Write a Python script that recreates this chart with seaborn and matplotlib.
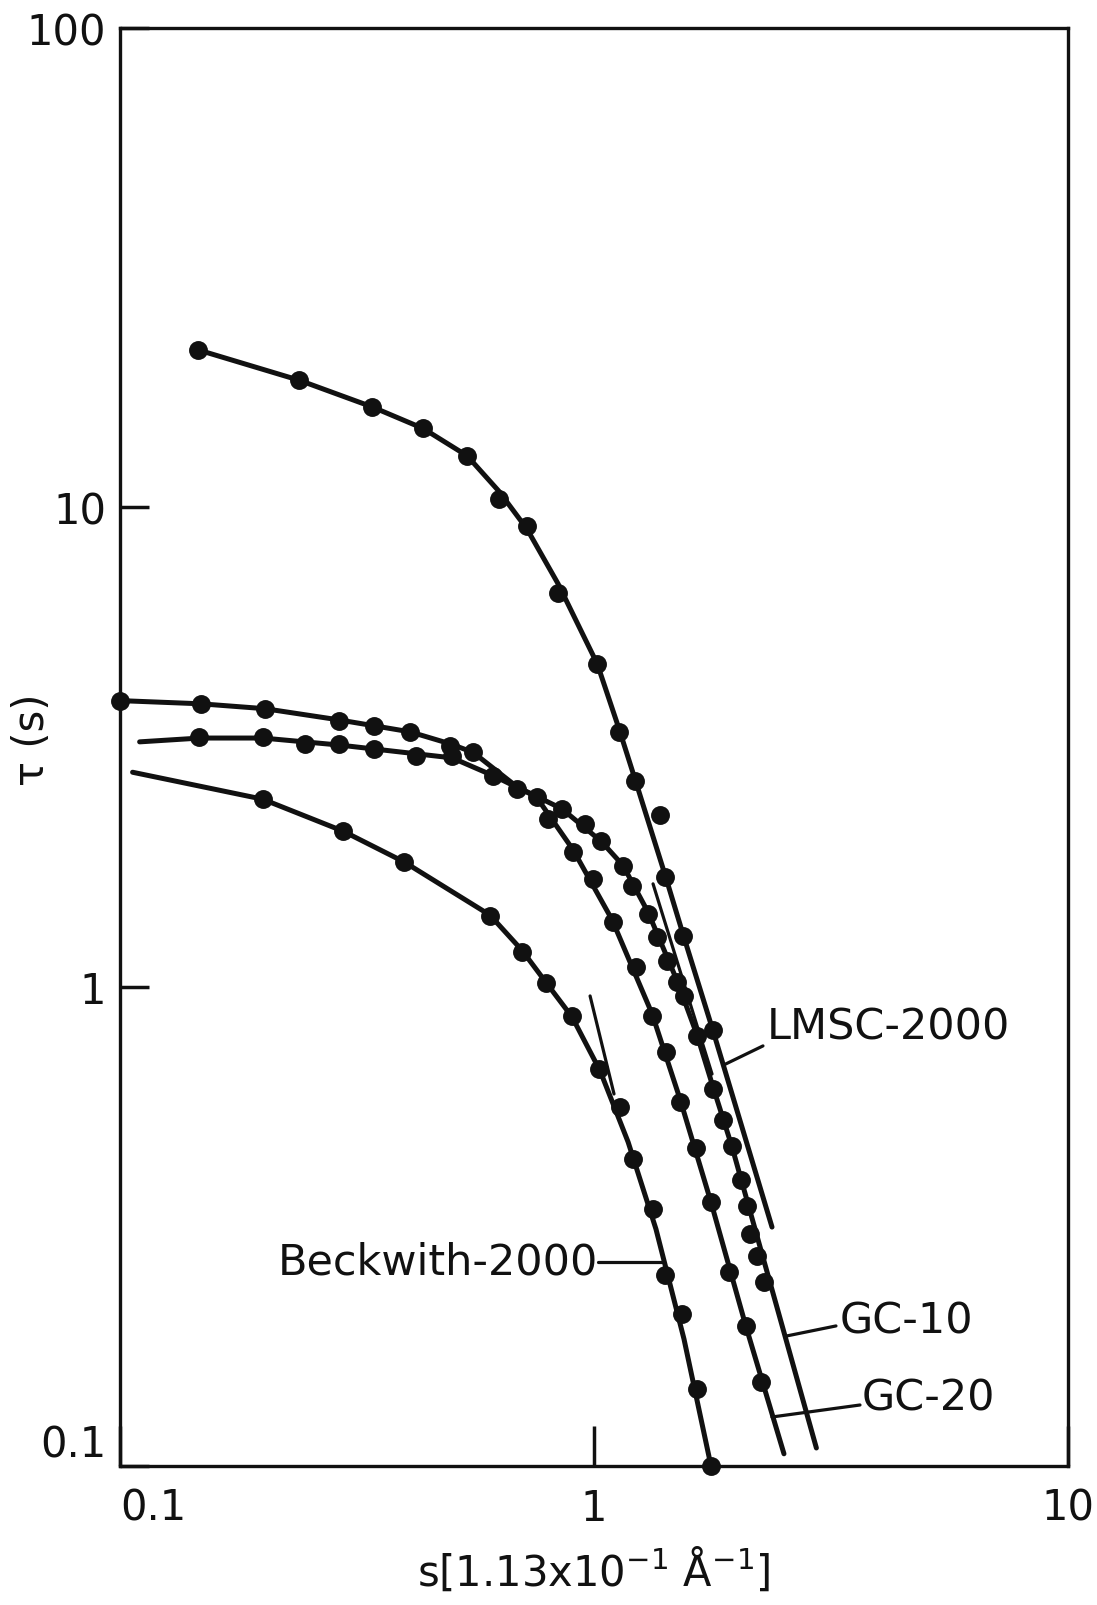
import matplotlib
matplotlib.use("Agg")
import matplotlib.pyplot as plt
from matplotlib.ticker import NullLocator
import seaborn as sns

# ---------------- data ----------------
# LMSC-2000 : measured points and drawn curve
lmsc_dot_s = [0.146, 0.239, 0.340, 0.436, 0.540, 0.630, 0.721, 0.840, 1.016, 1.127,
              1.221, 1.376, 1.411, 1.543, 1.781]
lmsc_dot_t = [21.3, 18.4, 16.2, 14.6, 12.8, 10.4, 9.12, 6.62, 4.72, 3.39,
              2.68, 2.28, 1.695, 1.274, 0.810]
lmsc_fit_s = [0.146, 0.239, 0.340, 0.436, 0.540, 0.630, 0.722, 0.840, 1.016, 1.129,
              1.220, 1.412, 1.543, 1.781, 2.374]
lmsc_fit_t = [21.3, 18.4, 16.2, 14.6, 12.8, 10.8, 9.01, 6.92, 4.71, 3.45,
              2.71, 1.71, 1.28, 0.811, 0.315]

# GC-10
gc10_dot_s = [0.100, 0.148, 0.202, 0.290, 0.343, 0.409, 0.497, 0.556, 0.688, 0.855,
              0.957, 1.033, 1.153, 1.201, 1.300, 1.358, 1.426, 1.496, 1.548, 1.649,
              1.785, 1.867, 1.955, 2.039, 2.098, 2.134, 2.205, 2.279]
gc10_dot_t = [3.95, 3.89, 3.80, 3.59, 3.50, 3.40, 3.18, 3.08, 2.585, 2.35,
              2.185, 2.01, 1.786, 1.622, 1.418, 1.269, 1.131, 1.023, 0.956, 0.789,
              0.612, 0.527, 0.464, 0.394, 0.348, 0.305, 0.274, 0.242]
gc10_fit_s = [0.100, 0.148, 0.202, 0.290, 0.409, 0.497, 0.556, 0.688, 0.855, 1.035,
              1.151, 1.300, 1.496, 1.649, 1.782, 1.955, 2.945]
gc10_fit_t = [3.95, 3.89, 3.80, 3.60, 3.40, 3.21, 3.08, 2.61, 2.35, 2.01,
              1.79, 1.43, 1.03, 0.793, 0.618, 0.463, 0.109]
gc10_tan_s = [1.332, 1.774]
gc10_tan_t = [1.638, 0.657]

# GC-20
gc20_dot_s = [0.1471, 0.1999, 0.2453, 0.2901, 0.3428, 0.4206, 0.5018, 0.6131, 0.7564, 0.7989,
              0.9030, 0.9938, 1.094, 1.228, 1.328, 1.419, 1.518, 1.641, 1.763, 1.923,
              2.097, 2.245]
gc20_dot_t = [3.314, 3.314, 3.209, 3.209, 3.132, 3.033, 3.033, 2.751, 2.487, 2.237,
              1.910, 1.677, 1.362, 1.099, 0.8666, 0.7296, 0.5739, 0.4609, 0.3549, 0.2535,
              0.1963, 0.1495]
gc20_fit_s = [0.110, 0.1475, 0.200, 0.291, 0.421, 0.502, 0.615, 0.755, 0.903, 1.091,
              1.326, 1.518, 1.765, 2.093, 2.516]
gc20_fit_t = [3.24, 3.30, 3.30, 3.19, 3.06, 3.00, 2.75, 2.49, 1.93, 1.38,
              0.877, 0.583, 0.355, 0.195, 0.106]

# Beckwith-2000
beck_dot_s = [0.1999, 0.2955, 0.3979, 0.6045, 0.7031, 0.7918, 0.900, 1.026, 1.135, 1.209,
              1.333, 1.411, 1.536, 1.649, 1.765]
beck_dot_t = [2.463, 2.116, 1.818, 1.406, 1.181, 1.018, 0.8666, 0.6737, 0.5597, 0.437,
              0.3438, 0.2503, 0.2076, 0.1448, 0.100]
beck_fit_s = [0.1063, 0.200, 0.2955, 0.3975, 0.603, 0.705, 0.792, 0.899, 1.030, 1.180,
              1.351, 1.548, 1.765]
beck_fit_t = [2.80, 2.46, 2.11, 1.82, 1.41, 1.19, 1.02, 0.864, 0.667, 0.474,
              0.312, 0.184, 0.100]
beck_tan_s = [0.981, 1.102]
beck_tan_t = [0.956, 0.597]

x_ticks = [0.1, 1, 10]
x_tick_labels = ["0.1", "1", "10"]
y_ticks = [0.1, 1, 10, 100]
y_tick_labels = ["0.1", "1", "10", "100"]

# ---------------- drawing ----------------
sns.set_theme(style="ticks")
plt.rcParams['font.family'] = ['DejaVu Sans']
INK = "#111111"

fig = plt.figure(figsize=(10.97, 16.06), dpi=100)
fig.patch.set_facecolor("white")
ax = fig.add_axes([0.1094, 0.0866, 0.8642, 0.8954])
ax.set_facecolor("white")
ax.set_xscale("log")
ax.set_yscale("log")
ax.set_xlim(0.1, 10)
ax.set_ylim(0.1, 100)

for fs, ft in [(lmsc_fit_s, lmsc_fit_t), (gc10_fit_s, gc10_fit_t),
               (gc20_fit_s, gc20_fit_t), (beck_fit_s, beck_fit_t)]:
    sns.lineplot(x=fs, y=ft, ax=ax, color=INK, linewidth=3.6, sort=False,
                 estimator=None, legend=False)

for ts, tt in [(gc10_tan_s, gc10_tan_t), (beck_tan_s, beck_tan_t)]:
    sns.lineplot(x=ts, y=tt, ax=ax, color=INK, linewidth=2.3, sort=False,
                 estimator=None, legend=False)

for ds, dt in [(lmsc_dot_s, lmsc_dot_t), (gc10_dot_s, gc10_dot_t),
               (gc20_dot_s, gc20_dot_t), (beck_dot_s, beck_dot_t)]:
    sns.scatterplot(x=ds, y=dt, ax=ax, color=INK, s=185, linewidth=0,
                    clip_on=False, zorder=4, legend=False)

# labels with leader lines
LBL = 31
ax.text(2.317, 0.8236, "LMSC-2000", fontsize=LBL, ha="left", va="center", color=INK)
ax.plot([2.272, 1.876], [0.752, 0.686], color=INK, lw=2.3)

ax.text(3.304, 0.2007, "GC-10", fontsize=LBL, ha="left", va="center", color=INK)
ax.plot([3.239, 2.55], [0.1959, 0.1867], color=INK, lw=2.3)

ax.text(3.677, 0.1386, "GC-20", fontsize=LBL, ha="left", va="center", color=INK)
ax.plot([3.640, 2.374], [0.1340, 0.1265], color=INK, lw=2.3)

ax.text(1.019, 0.2665, "Beckwith-2000", fontsize=LBL, ha="right", va="center", color=INK)
ax.plot([1.019, 1.405], [0.2665, 0.2665], color=INK, lw=2.3)

# axes styling
ax.set_xticks(x_ticks)
ax.set_xticklabels(x_tick_labels)
ax.set_yticks(y_ticks)
ax.set_yticklabels(y_tick_labels)
ax.xaxis.set_minor_locator(NullLocator())
ax.yaxis.set_minor_locator(NullLocator())
ax.tick_params(axis="x", direction="in", length=29, width=2.5, pad=15,
               labelsize=30, colors=INK, top=False)
ax.tick_params(axis="y", direction="in", length=21, width=2.5, pad=10,
               labelsize=30, colors=INK, right=False)
ax.get_xticklabels()[0].set_horizontalalignment("left")
ax.get_yticklabels()[0].set_verticalalignment("bottom")

for sp in ax.spines.values():
    sp.set_visible(True)
    sp.set_linewidth(2.4)
    sp.set_color(INK)

ax.set_xlabel("s[1.13x10$^{-1}$ Å$^{-1}$]", fontsize=30, labelpad=12, color=INK)
ax.set_ylabel("τ (s)", fontsize=30, color=INK)
ax.yaxis.set_label_coords(-0.0707, 0.5056)

fig.savefig("out.png", dpi=100, facecolor="white")
